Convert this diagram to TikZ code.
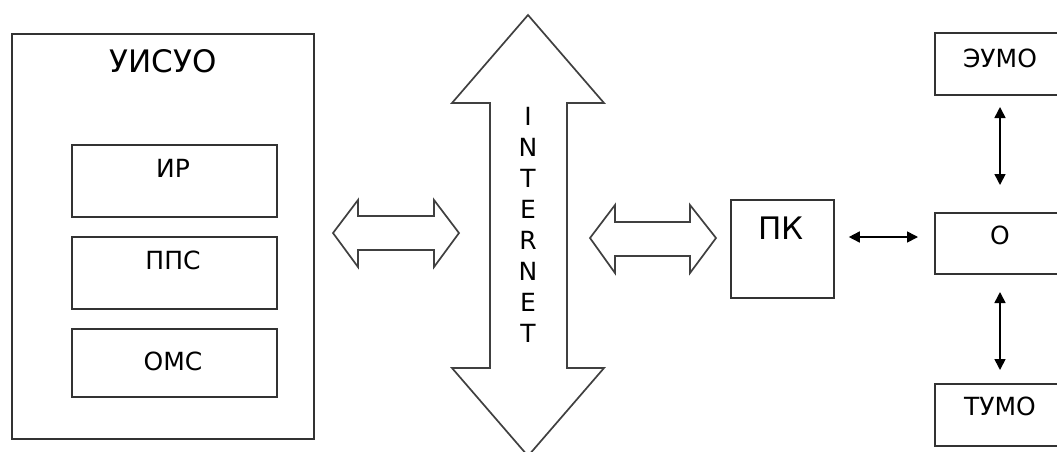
\documentclass[tikz,border=0pt]{standalone}
\usepackage{fontspec}
\setmainfont{DejaVu Sans}
\usetikzlibrary{arrows.meta}
\tikzset{
  box/.style={draw=black!80, line width=1.8pt, inner sep=0pt, anchor=north west},
  lbl/.style={inner sep=0pt, text=black},
  blockarrow/.style={draw=black!75, line width=1.7pt, line join=miter, fill=white},
  link/.style={line width=1.6pt, {Triangle[length=11pt,width=11pt]}-{Triangle[length=11pt,width=11pt]}}
}
\begin{document}
\begin{tikzpicture}[x=1pt,y=-1pt]
\useasboundingbox (0,0) rectangle (1057,451);
\clip (0,0) rectangle (1057,451);
% left block
\node[box, minimum width=302pt, minimum height=405pt] (uisuo) at (11,33) {};
\node[lbl, font=\fontsize{31}{31}\selectfont] (uisuot) at (163,61) {УИСУО};
\node[box, minimum width=205pt, minimum height=72pt] (ir) at (71,144) {};
\node[lbl, font=\fontsize{25}{25}\selectfont] (irt) at (173,168) {ИР};
\node[box, minimum width=205pt, minimum height=72pt] (pps) at (71,236) {};
\node[lbl, font=\fontsize{25}{25}\selectfont] (ppst) at (173,260) {ППС};
\node[box, minimum width=205pt, minimum height=68pt] (oms) at (71,328) {};
\node[lbl, font=\fontsize{25}{25}\selectfont] (omst) at (173,361) {ОМС};
% left double arrow
\draw[blockarrow] (333,233) -- (358,200) -- (358,216) -- (434,216) -- (434,200) -- (459,233)
  -- (434,267) -- (434,250) -- (358,250) -- (358,267) -- cycle;
% internet arrow
\draw[blockarrow] (528,15) -- (604,103) -- (567,103) -- (567,368) -- (604,368) -- (528,456)
  -- (452,368) -- (490,368) -- (490,103) -- (452,103) -- cycle;
\node[lbl, font=\fontsize{25}{31}\selectfont, align=center] (internet) at (528,225)
  {I\\N\\T\\E\\R\\N\\E\\T};
% right double arrow
\draw[blockarrow] (590,238) -- (615,205) -- (615,222) -- (690,222) -- (690,205) -- (716,238)
  -- (690,273) -- (690,256) -- (615,256) -- (615,273) -- cycle;
% PK
\node[box, minimum width=103pt, minimum height=98pt] (pk) at (730,199) {};
\node[lbl, font=\fontsize{31}{31}\selectfont] (pkt) at (781,228) {ПК};
% right column
\node[box, minimum width=140pt, minimum height=62pt] (eumo) at (934,32) {};
\node[lbl, font=\fontsize{25}{25}\selectfont] (eumot) at (1000,58) {ЭУМО};
\node[box, minimum width=140pt, minimum height=61pt] (o) at (934,212) {};
\node[lbl, font=\fontsize{25}{25}\selectfont] (ot) at (1000,235) {О};
\node[box, minimum width=140pt, minimum height=62pt] (tumo) at (934,383) {};
\node[lbl, font=\fontsize{25}{25}\selectfont] (tumot) at (1000,406) {ТУМО};
% links
\coordinate (a1) at ([xshift=14pt]pk.east |- 0,237);
\coordinate (a2) at ([xshift=-16pt]o.west |- 0,237);
\draw[link] (a1) -- (a2);
\coordinate (b1) at (1000,107);
\coordinate (b2) at (1000,185);
\draw[link] (b1) -- (b2);
\coordinate (c1) at (1000,292);
\coordinate (c2) at (1000,370);
\draw[link] (c1) -- (c2);
\end{tikzpicture}
\end{document}
